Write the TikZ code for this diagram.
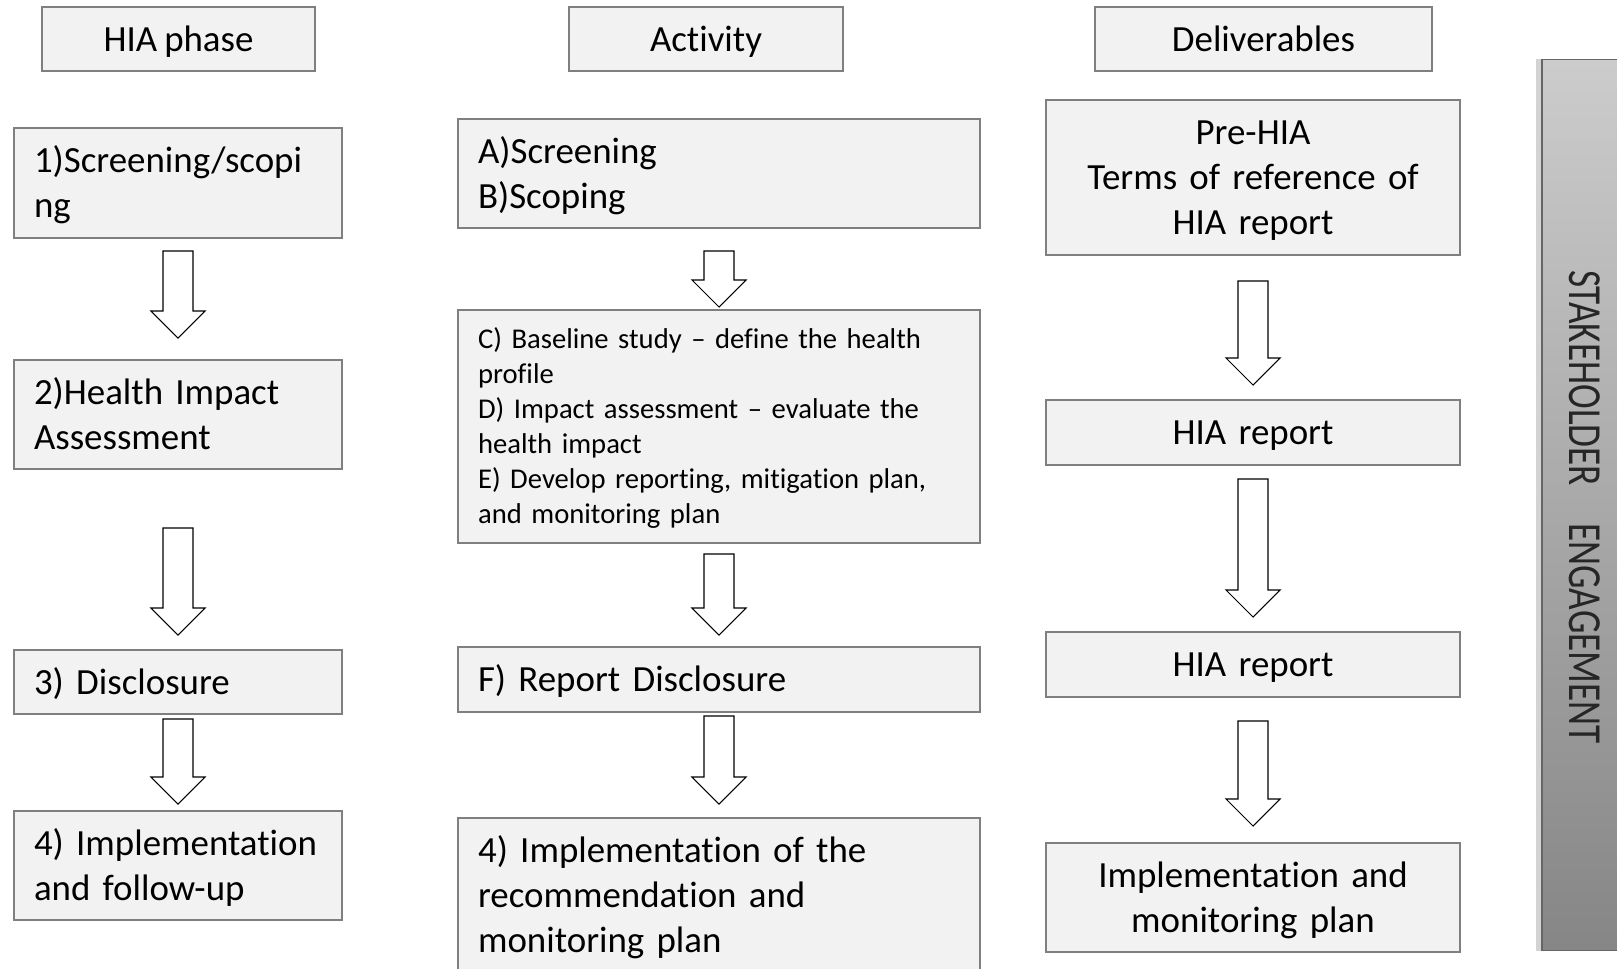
\documentclass[tikz,border=0pt]{standalone}
\usepackage{fontspec}
\setmainfont{Carlito}[Ligatures=NoCommon,WordSpace=0.85]
\usetikzlibrary{shadows}

\definecolor{boxfill}{HTML}{F2F2F2}
\definecolor{boxline}{HTML}{7F7F7F}

\tikzset{
  box/.style={draw=boxline,fill=boxfill,line width=0.8pt,inner ysep=0pt,inner xsep=0.4cm,
    font=\fontsize{21}{25.6}\selectfont,
    execute at begin node={\rule{0pt}{0.95em}},
    execute at end node={\rule[-0.29em]{0pt}{0.29em}}},
  headbox/.style={box,align=center,minimum height=1.28cm},
  phasebox/.style={box,align=left,minimum width=6.56cm,text width=5.76cm},
  actbox/.style={box,align=left,minimum width=10.44cm,text width=9.64cm},
  delbox/.style={box,align=center,minimum width=8.28cm,text width=7.48cm},
  fatarrow/.style={draw=black,fill=white,line width=0.6pt,line join=miter},
  bar/.style={draw=gray!80!black,line width=0.6pt,top color=gray!40,bottom color=gray!95,
    drop shadow={shadow xshift=-0.12cm,shadow yshift=0cm,opacity=0.35,fill=gray}}
}

\newcommand\blockdown[3]{\draw[fatarrow] (#1-15,#2) -- (#1+15,#2) -- (#1+15,#3-27) -- (#1+27,#3-27) -- (#1,#3) -- (#1-27,#3-27) -- (#1-15,#3-27) -- cycle;}

\begin{document}
\begin{tikzpicture}[x=0.02cm,y=-0.02cm]
\useasboundingbox (0,0) rectangle (1617,968);

% column heads
\node [headbox,minimum width=5.46cm](head1) at (178.5,39) {HIA phase};
\node [headbox,minimum width=5.48cm](head2) at (706,39) {Activity};
\node [headbox,minimum width=6.74cm](head3) at (1263.5,39) {Deliverables};

% HIA phase
\node [phasebox,minimum height=2.2cm](phase1)  at (178,183) {1)Screening/scopi\\ng};
\node [phasebox,minimum height=2.18cm](phase2) at (178,414.5) {2)Health Impact\\Assessment};
\node [phasebox,minimum height=1.28cm](phase3) at (178,682) {3) Disclosure};
\node [phasebox,minimum height=2.18cm](phase4) at (178,865.5) {4) Implementation\\and follow-up};

% activity
\node [actbox,minimum height=2.18cm](act1) at (719,173.5) {A)Screening\\B)Scoping};
\node [actbox,minimum height=4.66cm,font=\fontsize{16.3}{19.9}\selectfont](act2) at (719,426.5)
  {C) Baseline study -- define the health\\profile\\D) Impact assessment -- evaluate the\\health impact\\E) Develop reporting, mitigation plan,\\and monitoring plan};
\node [actbox,minimum height=1.3cm](act3) at (719,679.5) {F) Report Disclosure};
\node [actbox,minimum height=3.08cm](act4) at (719,895) {4) Implementation of the\\recommendation and\\monitoring plan};

% deliverables
\node [delbox,minimum height=3.1cm](del1) at (1253,177.5) {Pre-HIA\\Terms of reference of\\HIA report};
\node [delbox,minimum height=1.3cm](del2) at (1253,432.5) {HIA report};
\node [delbox,minimum height=1.3cm](del3) at (1253,664.5) {HIA report};
\node [delbox,minimum height=2.18cm](del4) at (1253,897.5) {Implementation and\\monitoring plan};

% arrows
\blockdown{178}{251}{338}
\blockdown{178}{528}{635}
\blockdown{178}{719}{804}
\blockdown{719}{251}{307}
\blockdown{719}{554}{635}
\blockdown{719}{716}{804}
\blockdown{1253}{281}{385}
\blockdown{1253}{479}{617}
\blockdown{1253}{721}{826}

% stakeholder bar
\node [bar,minimum width=1.56cm,minimum height=17.84cm](stakebar) at (1581,505) {};
\node [rotate=-90,text=black!85,font=\fontsize{27}{30}\selectfont](stake) at (1585,507)
  {\scalebox{0.785}[1]{STAKEHOLDER}\hspace{21pt}\scalebox{0.785}[1]{ENGAGEMENT}};

\end{tikzpicture}
\end{document}
